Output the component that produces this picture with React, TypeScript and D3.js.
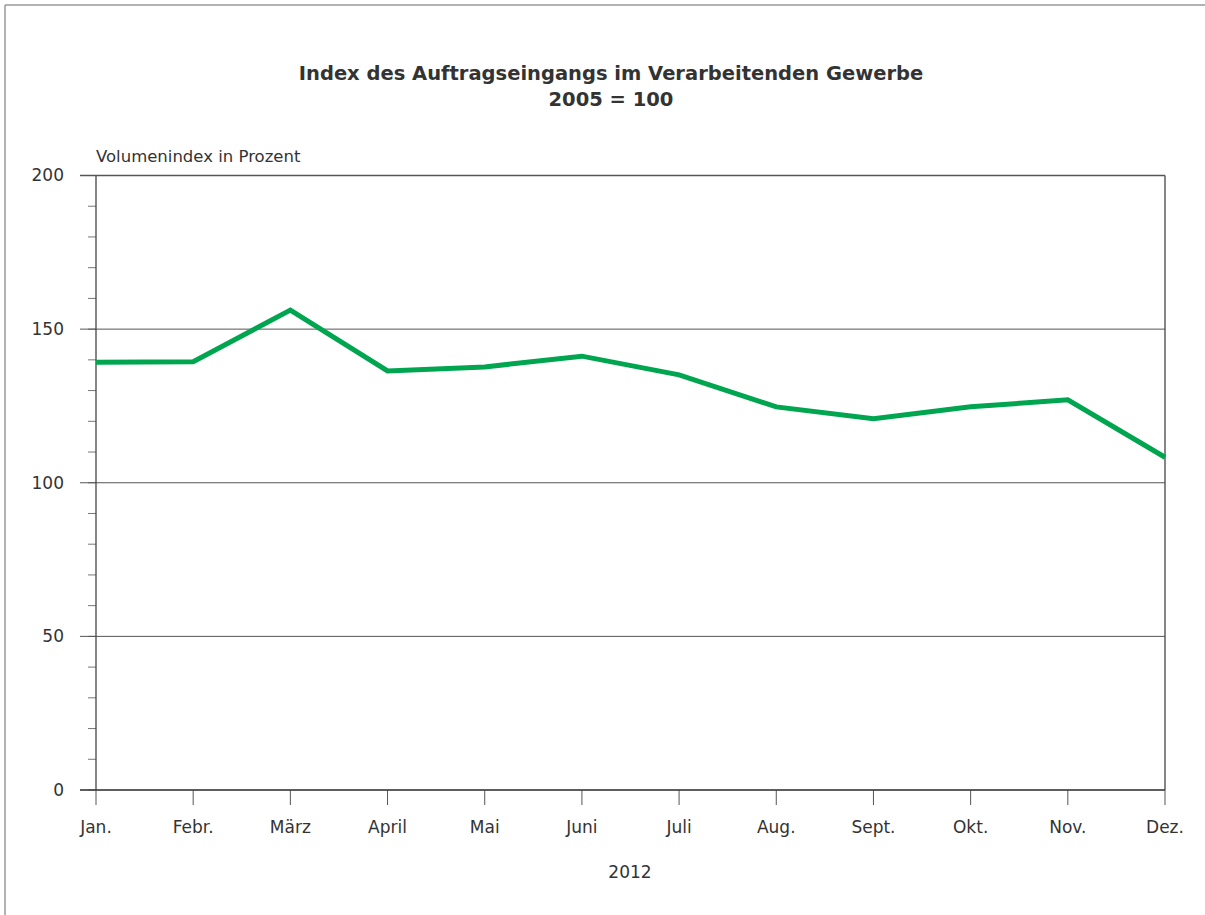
import React from "react";
import * as d3 from "d3";

const months = ["Jan.", "Febr.", "März", "April", "Mai", "Juni", "Juli", "Aug.", "Sept.", "Okt.", "Nov.", "Dez."];
const values = [139.2, 139.4, 156.2, 136.4, 137.7, 141.2, 135.1, 124.7, 120.8, 124.7, 127.0, 108.3];
const majorTicks = [0, 50, 100, 150, 200];
const minorTicks = d3.range(0, 201, 10);
const title1 = "Index des Auftragseingangs im Verarbeitenden Gewerbe";
const title2 = "2005 = 100";
const yTitle = "Volumenindex in Prozent";
const xTitle = "2012";

export default function App() {
  const W = 1205, H = 915;
  const left = 96, right = 1165, top = 175.5, bottom = 790;
  const x = d3.scalePoint<string>().domain(months).range([left, right]);
  const y = d3.scaleLinear().domain([0, 200]).range([bottom, top]);
  const line = d3.line<number>().x((_, i) => x(months[i])!).y((d) => y(d));
  const font = "'DejaVu Sans', 'Noto Sans', sans-serif";
  const textColor = "#333";
  return (
    <svg width={W} height={H} style={{ position: "absolute", left: 0, top: 0 }} fontFamily={font}>
      <line x1={5} x2={W} y1={5} y2={5} stroke="#999" strokeWidth={1.5} />
      <line x1={5} x2={5} y1={5} y2={H} stroke="#999" strokeWidth={1.5} />
      <text x={611} y={80} textAnchor="middle" fontSize={19.5} fontWeight="bold" fill={textColor}>{title1}</text>
      <text x={611} y={106} textAnchor="middle" fontSize={19.5} fontWeight="bold" fill={textColor}>{title2}</text>
      <text x={left} y={162} fontSize={16.5} fill={textColor}>{yTitle}</text>
      {minorTicks.map((t) => (
        <line key={"m" + t} x1={88} x2={left} y1={y(t)} y2={y(t)} stroke="#777" strokeWidth={1} />
      ))}
      {majorTicks.map((t) => (
        <g key={"g" + t}>
          <line x1={80} x2={right} y1={y(t)} y2={y(t)} stroke="#555" strokeWidth={1} />
          <text x={64} y={y(t)} dy="0.35em" textAnchor="end" fontSize={17} fill={textColor}>{t}</text>
        </g>
      ))}
      {months.map((m) => (
        <g key={m}>
          <line x1={x(m)} x2={x(m)} y1={bottom} y2={805} stroke="#555" strokeWidth={1} />
          <text x={x(m)} y={833} textAnchor="middle" fontSize={17} fill={textColor}>{m}</text>
        </g>
      ))}
      <line x1={left} x2={left} y1={top} y2={bottom} stroke="#444" strokeWidth={1.3} />
      <line x1={right} x2={right} y1={top} y2={bottom} stroke="#444" strokeWidth={1.3} />
      <line x1={80} x2={right} y1={top} y2={top} stroke="#555" strokeWidth={1.3} />
      <line x1={80} x2={right} y1={bottom} y2={bottom} stroke="#444" strokeWidth={1.6} />
      <path d={line(values) || ""} fill="none" stroke="#00a550" strokeWidth={5} strokeLinejoin="miter" />
      <text x={630} y={878} textAnchor="middle" fontSize={17} fill={textColor}>{xTitle}</text>
    </svg>
  );
}
